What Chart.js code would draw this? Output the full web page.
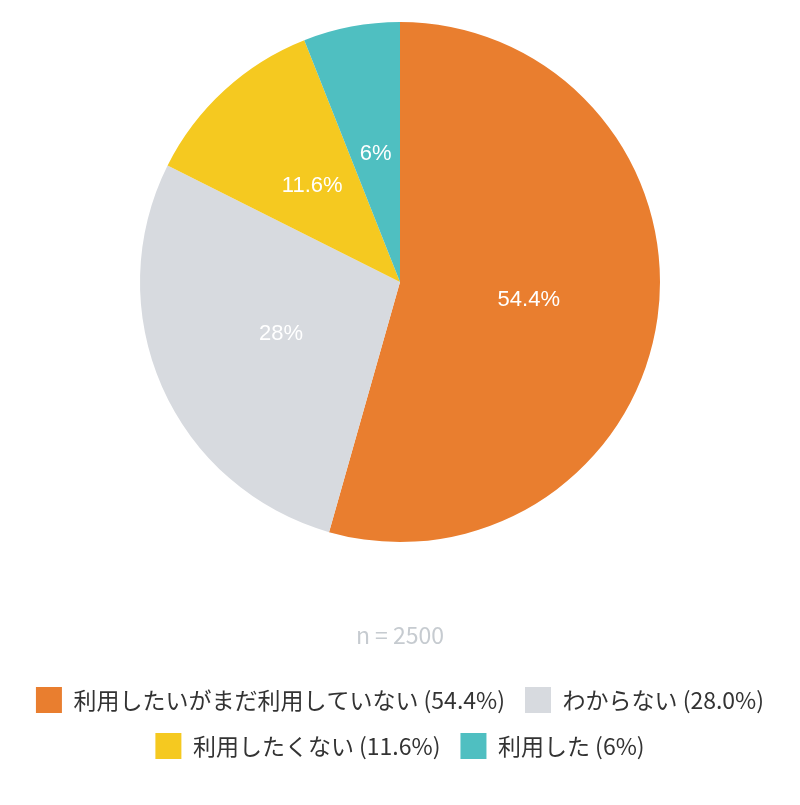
<!DOCTYPE html>
<html>
<head>
<meta charset="utf-8">
<script src="https://cdn.jsdelivr.net/npm/chart.js@4"></script>
<style>
html,body{margin:0;padding:0;background:#fff;}
#wrap{width:800px;height:805px;position:relative;}
</style>
</head>
<body>
<div id="wrap"><canvas id="c" width="800" height="805"></canvas></div>
<script>
const categories = ['利用したいがまだ利用していない', 'わからない', '利用したくない', '利用した'];
const values = [54.4, 28.0, 11.6, 6];
const sliceLabels = ['54.4%', '28%', '11.6%', '6%'];
const legendLabels = ['利用したいがまだ利用していない (54.4%)', 'わからない (28.0%)', '利用したくない (11.6%)', '利用した (6%)'];
const colors = ['#E97E2F', '#D7DADF', '#F5C920', '#4FBFC1'];
const footnote = 'n = 2500';

const sliceLabelPlugin = {
  id: 'sliceLabels',
  afterDatasetsDraw(chart) {
    const ctx = chart.ctx;
    const meta = chart.getDatasetMeta(0);
    ctx.save();
    ctx.fillStyle = '#ffffff';
    ctx.font = '22px "Liberation Sans", Arial, sans-serif';
    ctx.textAlign = 'center';
    ctx.textBaseline = 'middle';
    meta.data.forEach((arc, i) => {
      const p = arc.getCenterPoint();
      ctx.fillText(sliceLabels[i], p.x, p.y);
    });
    ctx.restore();
  }
};

new Chart(document.getElementById('c'), {
  type: 'pie',
  data: {
    labels: categories,
    datasets: [{
      data: values,
      backgroundColor: colors,
      borderWidth: 0
    }]
  },
  options: {
    responsive: false,
    animation: false,
    layout: { padding: { top: 22, bottom: 36, left: 0, right: 0 } },
    plugins: {
      tooltip: { enabled: false },
      title: {
        display: true,
        text: footnote,
        position: 'bottom',
        weight: 500,
        color: '#C6CBD0',
        font: { family: '"Noto Sans CJK JP", sans-serif', size: 23, weight: 'normal', lineHeight: 1.2 },
        padding: { top: 79.2, bottom: 18.2 }
      },
      legend: {
        position: 'bottom',
        labels: {
          boxWidth: 26,
          boxHeight: 26,
          padding: 20,
          color: '#333333',
          font: { family: '"Noto Sans CJK JP", sans-serif', size: 23 },
          generateLabels(chart) {
            return legendLabels.map((t, i) => ({
              text: t,
              fillStyle: colors[i],
              strokeStyle: colors[i],
              lineWidth: 0,
              hidden: false,
              index: i,
              fontColor: '#333333'
            }));
          }
        }
      }
    }
  },
  plugins: [sliceLabelPlugin]
});
</script>
</body>
</html>
